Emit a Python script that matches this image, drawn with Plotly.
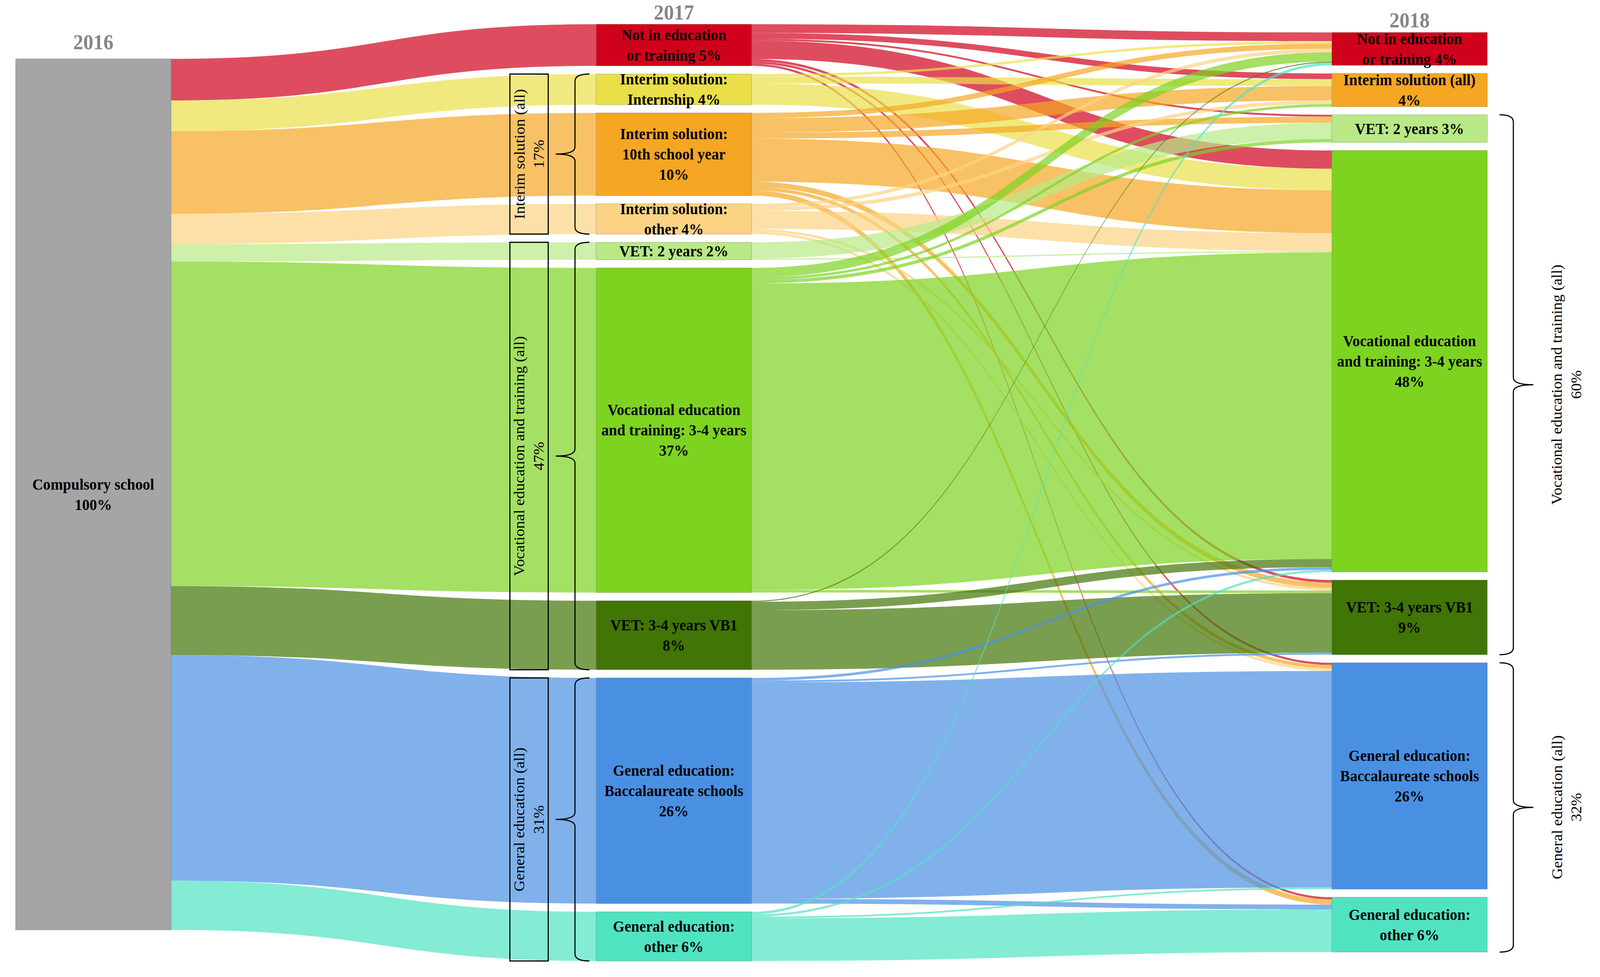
import plotly.graph_objects as go

# ---------------- data ----------------
year_labels = ["2016", "2017", "2018"]

source_label = "Compulsory school<br>100%"

mid_names = [
    "Not in education or training",
    "Interim solution: Internship",
    "Interim solution: 10th school year",
    "Interim solution: other",
    "VET: 2 years",
    "Vocational education and training: 3-4 years",
    "VET: 3-4 years VB1",
    "General education: Baccalaureate schools",
    "General education: other",
]
mid_labels = [
    "Not in education<br>or training 5%",
    "Interim solution:<br>Internship 4%",
    "Interim solution:<br>10th school year<br>10%",
    "Interim solution:<br>other 4%",
    "VET: 2 years 2%",
    "Vocational education<br>and training: 3-4 years<br>37%",
    "VET: 3-4 years VB1<br>8%",
    "General education:<br>Baccalaureate schools<br>26%",
    "General education:<br>other 6%",
]
right_names = [
    "Not in education or training",
    "Interim solution (all)",
    "VET: 2 years",
    "Vocational education and training: 3-4 years",
    "VET: 3-4 years VB1",
    "General education: Baccalaureate schools",
    "General education: other",
]
right_labels = [
    "Not in education<br>or training 4%",
    "Interim solution (all)<br>4%",
    "VET: 2 years 3%",
    "Vocational education<br>and training: 3-4 years<br>48%",
    "VET: 3-4 years VB1<br>9%",
    "General education:<br>Baccalaureate schools<br>26%",
    "General education:<br>other 6%",
]

# transitions 2017 -> 2018 (% of cohort), columns follow right_names
flow_neet     = [1.00, 0.66, 0.22, 2.10, 0.30, 0.25, 0.25]
flow_intern   = [0.28, 0.79, 0.00, 2.45, 0.00, 0.00, 0.00]
flow_tenth    = [0.60, 1.65, 0.70, 4.95, 0.60, 0.40, 0.60]
flow_other    = [0.40, 0.42, 0.00, 2.06, 0.30, 0.30, 0.00]
flow_vet2     = [0.00, 0.00, 1.85, 0.15, 0.00, 0.00, 0.00]
flow_vet34    = [1.08, 0.30, 0.40, 35.20, 0.30, 0.00, 0.00]
flow_vb1      = [0.12, 0.00, 0.00, 0.95, 6.85, 0.00, 0.00]
flow_bacc     = [0.00, 0.00, 0.00, 0.30, 0.22, 24.85, 0.55]
flow_genother = [0.30, 0.00, 0.00, 0.25, 0.00, 0.20, 4.90]
flows = [flow_neet, flow_intern, flow_tenth, flow_other, flow_vet2,
         flow_vet34, flow_vb1, flow_bacc, flow_genother]

# groups: (label, first index, last index)
mid_groups = [
    ("Interim solution (all)<br>17%", 1, 3),
    ("Vocational education and training (all)<br>47%", 4, 6),
    ("General education (all)<br>31%", 7, 8),
]
right_groups = [
    ("Vocational education and training (all)<br>60%", 2, 4),
    ("General education (all)<br>32%", 5, 6),
]

# ---------------- styles ----------------
source_color = "#A5A5A5"
mid_colors = ["#D0021B", "#EADF48", "#F5A623", "#FCD383", "#B8E986",
              "#7ED321", "#417505", "#4A90E2", "#50E3C2"]
right_colors = ["#D0021B", "#F5A623", "#B8E986", "#7ED321", "#417505",
                "#4A90E2", "#50E3C2"]
LINK_ALPHA = 0.7
FONT = "Liberation Serif"
LABEL_SIZE = 40
GROUP_SIZE = 40
YEAR_SIZE = 54
YEAR_COLOR = "#858585"


def rgba(hexc, a):
    h = hexc.lstrip("#")
    return "rgba(%d,%d,%d,%.2f)" % (int(h[0:2], 16), int(h[2:4], 16), int(h[4:6], 16), a)


# ---------------- geometry (pixels) ----------------
W, H = 4302, 2500
DOM_TOP, DOM_BOT = 62, 2459
DOM_H = DOM_BOT - DOM_TOP
PAD = 21
THICK = 418
X_LEFT, X_MID, X_RIGHT = 251, 1812, 3790
RIGHT_TOP, RIGHT_GAP = 83, 20.7
LEFT_CENTER = 1265

mid_tot = [sum(r) for r in flows]
right_tot = [sum(r[j] for r in flows) for j in range(len(right_names))]
ky = (DOM_H - PAD * (len(mid_tot) - 1)) / sum(mid_tot)

mid_top, mid_bot = [], []
y = DOM_TOP
for v in mid_tot:
    mid_top.append(y)
    mid_bot.append(y + v * ky)
    y += v * ky + PAD
right_top, right_bot = [], []
y = RIGHT_TOP
for v in right_tot:
    right_top.append(y)
    right_bot.append(y + v * ky)
    y += v * ky + RIGHT_GAP

mid_cy = [(a + b) / 2 for a, b in zip(mid_top, mid_bot)]
right_cy = [(a + b) / 2 for a, b in zip(right_top, right_bot)]

node_x = [X_LEFT / W] + [X_MID / W] * len(mid_tot) + [X_RIGHT / W] * len(right_tot)
node_y = ([(LEFT_CENTER - DOM_TOP) / DOM_H]
          + [(c - DOM_TOP) / DOM_H for c in mid_cy]
          + [(c - DOM_TOP) / DOM_H for c in right_cy])
node_colors = [source_color] + mid_colors + right_colors
node_custom = ["Compulsory school"] + mid_names + right_names

src, tgt, val, lcol = [], [], [], []
for i, v in enumerate(mid_tot):
    src.append(0); tgt.append(1 + i); val.append(v); lcol.append(rgba(mid_colors[i], LINK_ALPHA))
for i, row in enumerate(flows):
    for j, v in enumerate(row):
        if v > 0:
            src.append(1 + i); tgt.append(1 + len(mid_tot) + j); val.append(v)
            lcol.append(rgba(mid_colors[i], LINK_ALPHA))

fig = go.Figure(go.Sankey(
    arrangement="fixed",
    domain=dict(x=[0, 1], y=[1 - DOM_BOT / H, 1 - DOM_TOP / H]),
    node=dict(
        label=[""] * len(node_colors),
        customdata=node_custom,
        hovertemplate="%{customdata}<extra></extra>",
        x=node_x, y=node_y,
        color=node_colors,
        pad=PAD, thickness=THICK,
        line=dict(color="rgba(90,90,90,0.5)", width=1),
    ),
    link=dict(source=src, target=tgt, value=val, color=lcol),
))


def px(x):
    return x / W


def py(y):
    return 1 - y / H


ann = []
for lab, xc, yc in zip(year_labels, [X_LEFT, X_MID, X_RIGHT], [108, 32, 52]):
    ann.append(dict(x=px(xc), y=py(yc), text="<b>%s</b>" % lab, showarrow=False,
                    xref="paper", yref="paper", xanchor="center", yanchor="middle",
                    font=dict(family=FONT, size=YEAR_SIZE, color=YEAR_COLOR)))
node_ann = [dict(x=px(X_LEFT), y=py(LEFT_CENTER), text=source_label)]
for lab, c in zip(mid_labels, mid_cy):
    node_ann.append(dict(x=px(X_MID), y=py(c), text=lab))
for lab, c in zip(right_labels, right_cy):
    node_ann.append(dict(x=px(X_RIGHT), y=py(c), text=lab))
for a in node_ann:
    a.update(text="<b>%s</b>" % a["text"].replace("<br>", "</b><br><b>"),
             showarrow=False, xref="paper", yref="paper", xanchor="center",
             yanchor="middle", font=dict(family=FONT, size=LABEL_SIZE, color="black"))
ann += node_ann

shapes = []
BOX_X0, BOX_X1 = 1371, 1474
LB_LINE, LB_END, LB_TIP = 1546, 1585, 1494
RB_LINE, RB_END, RB_TIP = 4069, 4032, 4123
R = 18


def brace(xl, xe, xt, yt, yb):
    ym = (yt + yb) / 2
    pts = [("M", xe, yt), ("Q", xl, yt), ("", xl, yt + R), ("L", xl, ym - R),
           ("Q", xl, ym), ("", xt, ym), ("Q", xl, ym), ("", xl, ym + R),
           ("L", xl, yb - R), ("Q", xl, yb), ("", xe, yb)]
    return " ".join("%s%.6f,%.6f" % (c, px(a), py(b)) for c, a, b in pts)


for lab, i0, i1 in mid_groups:
    yt, yb = mid_top[i0], mid_bot[i1]
    shapes.append(dict(type="rect", xref="paper", yref="paper", x0=px(BOX_X0), x1=px(BOX_X1),
                       y0=py(yb), y1=py(yt), line=dict(color="black", width=3)))
    shapes.append(dict(type="path", xref="paper", yref="paper",
                       path=brace(LB_LINE, LB_END, LB_TIP, yt, yb),
                       line=dict(color="black", width=3)))
    ann.append(dict(x=px((BOX_X0 + BOX_X1) / 2), y=py((yt + yb) / 2), text=lab, textangle=-90,
                    showarrow=False, xref="paper", yref="paper", xanchor="center", yanchor="middle",
                    font=dict(family=FONT, size=GROUP_SIZE, color="black")))
for lab, i0, i1 in right_groups:
    yt, yb = right_top[i0], right_bot[i1]
    shapes.append(dict(type="path", xref="paper", yref="paper",
                       path=brace(RB_LINE, RB_END, RB_TIP, yt, yb),
                       line=dict(color="black", width=3)))
    ann.append(dict(x=px(4212), y=py((yt + yb) / 2), text=lab, textangle=-90,
                    showarrow=False, xref="paper", yref="paper", xanchor="center", yanchor="middle",
                    font=dict(family=FONT, size=GROUP_SIZE, color="black")))

fig.update_layout(
    width=W, height=H,
    margin=dict(l=0, r=0, t=0, b=0),
    paper_bgcolor="white", plot_bgcolor="white",
    annotations=ann, shapes=shapes,
    font=dict(family=FONT),
)

# the browser viewport can be narrower than the requested window (e.g. 4096 px);
# stretch the fixed-size figure so that it fills the viewport exactly
fit_js = """
(function(){
  var gd = document.getElementById('{plot_id}');
  document.documentElement.style.margin = '0';
  document.body.style.margin = '0';
  document.documentElement.style.overflow = 'hidden';
  document.body.style.overflow = 'hidden';
  var sx = Math.min(1, window.innerWidth / %d);
  var sy = Math.min(1, window.innerHeight / %d);
  gd.style.transformOrigin = '0 0';
  gd.style.transform = 'scale(' + sx + ',' + sy + ')';
})();
""" % (W, H)

fig.write_html("out.html", post_script=fit_js, config={"displayModeBar": False})
